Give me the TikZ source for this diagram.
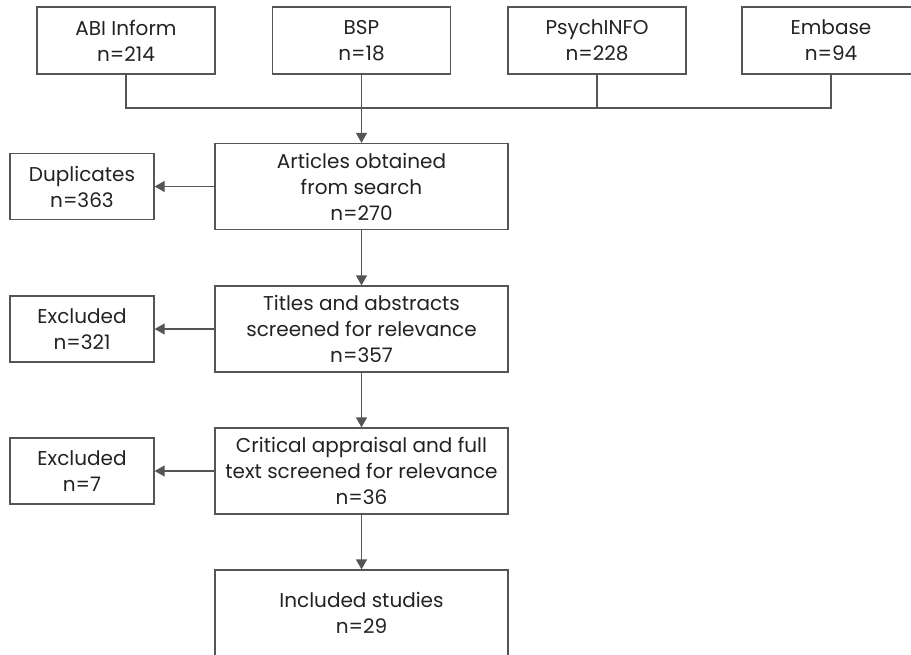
\documentclass[tikz,border=0pt]{standalone}
\usepackage{fontspec}
\setmainfont{Poppins}
\usetikzlibrary{arrows.meta}
\definecolor{ln}{HTML}{555555}
\definecolor{tx}{HTML}{222222}
\begin{document}
\begin{tikzpicture}[x=1pt,y=-1pt,
  box/.style={draw=ln,line width=1.3pt,fill=white,align=center,text=tx,
    font=\fontsize{20}{26}\selectfont,inner sep=0pt},
  top/.style={box,minimum width=178pt,minimum height=67pt},
  main/.style={box,minimum width=293pt,minimum height=86pt},
  side/.style={box,minimum width=144pt,minimum height=66pt},
  conn/.style={draw=ln,line width=1.3pt},
  arr/.style={conn,-{Triangle[length=10pt,width=11pt]}}]
\useasboundingbox (0,0) rectangle (911,654);
\clip (0,0) rectangle (911,654);
\node[top] (abi) at (126,40.5) {ABI Inform\\n=214};
\node[top] (bsp) at (361.5,40.5) {BSP\\n=18};
\node[top] (psy) at (597,40.5) {PsychINFO\\n=228};
\node[top] (emb) at (831,40.5) {Embase\\n=94};
\coordinate (j) at (361.5,108);
\node[main] (art) at (361.5,186.5) {Articles obtained\\from search\\n=270};
\node[side] (dup) at (82,186.5) {Duplicates\\n=363};
\node[main] (tit) at (361.5,329) {Titles and abstracts\\screened for relevance\\n=357};
\node[side] (ex1) at (82,329) {Excluded\\n=321};
\node[main] (cri) at (361.5,471) {Critical appraisal and full\\text screened for relevance\\n=36};
\node[side] (ex2) at (82,471) {Excluded\\n=7};
\node[main] (inc) at (361.5,613) {Included studies\\n=29};
\draw[conn] (abi.south) |- (emb.south |- j) -- (emb.south);
\draw[conn] (bsp.south) -- (j);
\draw[conn] (psy.south) -- (psy.south |- j);
\draw[arr] (j) -- (art.north);
\draw[arr] (art.west) -- (dup.east);
\draw[arr] (art.south) -- (tit.north);
\draw[arr] (tit.west) -- (ex1.east);
\draw[arr] (tit.south) -- (cri.north);
\draw[arr] (cri.west) -- (ex2.east);
\draw[arr] (cri.south) -- (inc.north);
\end{tikzpicture}
\end{document}
